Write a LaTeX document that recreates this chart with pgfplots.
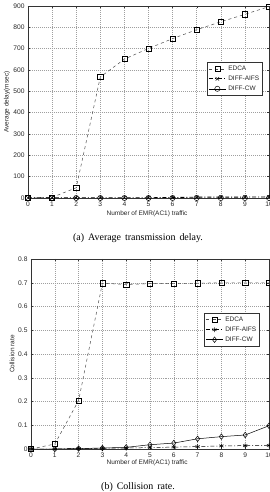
\documentclass[border=0pt]{standalone}
\usepackage{pgfplots}
\pgfplotsset{compat=1.18}
\usepackage{fontspec}
\setmainfont{Liberation Serif}
\setsansfont{Liberation Sans}

% shared Matlab-like style for both panels
\pgfplotsset{
  mlstyle/.style={
    scale only axis,
    xmin=0, xmax=10,
    xtick={0,1,...,10},
    grid=major,
    major grid style={dash pattern=on 0.6pt off 1.4pt, gray!75, line width=0.45pt},
    axis line style={black!80, line width=0.55pt},
    tick align=inside,
    major tick length=2bp,
    tick style={black!80, line width=0.4pt},
    /pgf/number format/assume math mode=true,
    ticklabel style={font=\sffamily\fontsize{6.7}{7}\selectfont, black!85},
    label style={font=\sffamily\fontsize{6.5}{7}\selectfont, black!85},
    legend cell align=left,
    legend style={font=\sffamily\fontsize{6.5}{7.5}\selectfont,
      draw=black!80, line width=0.5pt, inner sep=1.5pt, row sep=0pt,
      text=black!85},
  },
}

\begin{document}
\begin{tikzpicture}
\useasboundingbox (0bp,0bp) rectangle (270bp,492bp);

% (a) average transmission delay
\begin{axis}[mlstyle,
  at={(28bp,294bp)}, anchor=south west,
  width=241bp, height=192bp,
  ymin=0, ymax=900, ytick={0,100,...,900},
  xlabel={Number of EMR(AC1) traffic},
  ylabel={Average delay(msec)},
  xlabel style={at={(axis description cs:0.494,-0.083)}, anchor=center},
  ylabel style={at={(axis description cs:-0.087,0.5)}, anchor=center},
  legend style={at={(0.975,0.708)}, anchor=north east},
]
\addplot[black!70, dashed, line width=0.5pt, mark=square, mark size=2.6bp,
  mark options={solid, black, line width=0.5pt}]
  coordinates {(0,0) (1,3) (2,48) (3,567) (4,651) (5,701) (6,747) (7,789) (8,826) (9,861) (10,897)};
\addlegendentry{EDCA}
\addplot[black, dash pattern=on 4pt off 2pt on 1pt off 2pt, line width=0.9pt, mark=x, mark size=2.4bp,
  mark options={solid, black, line width=0.5pt}]
  coordinates {(0,0.5) (1,0.5) (2,0.5) (3,0.8) (4,1) (5,1.2) (6,2) (7,4) (8,4) (9,4.5) (10,5)};
\addlegendentry{DIFF-AIFS}
\addplot[black, solid, line width=0.5pt, mark=o, mark size=2.6bp,
  mark options={solid, black, line width=0.5pt}]
  coordinates {(0,0) (1,0) (2,0) (3,0) (4,0) (5,0) (6,0) (7,0) (8,0) (9,0) (10,0)};
\addlegendentry{DIFF-CW}
\end{axis}
\node[font=\fontsize{10}{12}\selectfont, anchor=center] at (138bp,254bp)
  {(a)\hspace{4bp}Average\hspace{4bp}transmission\hspace{4bp}delay.};

% (b) collision rate
\begin{axis}[mlstyle,
  at={(31bp,43bp)}, anchor=south west,
  width=238bp, height=190bp,
  ymin=0, ymax=0.8, ytick={0,0.1,...,0.8},
  yticklabel style={/pgf/number format/fixed, /pgf/number format/precision=1},
  xlabel={Number of EMR(AC1) traffic},
  ylabel={Collision rate},
  xlabel style={at={(axis description cs:0.488,-0.074)}, anchor=center},
  ylabel style={at={(axis description cs:-0.08,0.5)}, anchor=center},
  legend style={at={(0.962,0.716)}, anchor=north east},
]
\addplot[black!70, dashed, line width=0.5pt, mark=square, mark size=2.6bp,
  mark options={solid, black, line width=0.5pt}]
  coordinates {(0,0) (1,0.021) (2,0.204) (3,0.698) (4,0.693) (5,0.696) (6,0.696) (7,0.698) (8,0.700) (9,0.700) (10,0.700)};
\addlegendentry{EDCA}
\addplot[black, dash pattern=on 4pt off 2pt on 1pt off 2pt, line width=0.5pt, mark=asterisk, mark size=2.4bp,
  mark options={solid, black, line width=0.5pt}]
  coordinates {(0,0) (1,0) (2,0.002) (3,0.003) (4,0.004) (5,0.006) (6,0.008) (7,0.010) (8,0.013) (9,0.014) (10,0.015)};
\addlegendentry{DIFF-AIFS}
\addplot[black, solid, line width=0.5pt, mark=diamond, mark size=2.8bp,
  mark options={solid, black, line width=0.5pt}]
  coordinates {(0,0) (1,0) (2,0.002) (3,0.004) (4,0.007) (5,0.018) (6,0.025) (7,0.043) (8,0.052) (9,0.059) (10,0.098)};
\addlegendentry{DIFF-CW}
\end{axis}
\node[font=\fontsize{10}{12}\selectfont, anchor=center] at (138bp,5bp)
  {(b)\hspace{4bp}Collision\hspace{4bp}rate.};
\end{tikzpicture}
\end{document}
